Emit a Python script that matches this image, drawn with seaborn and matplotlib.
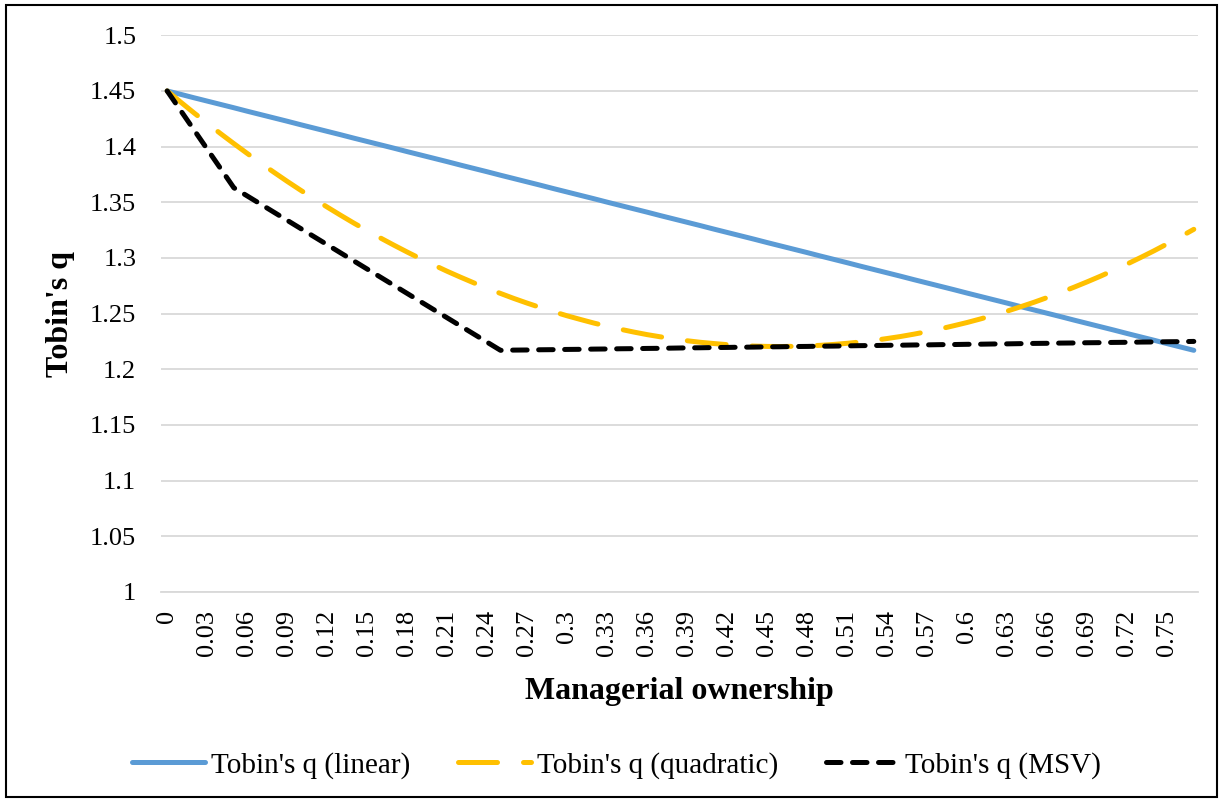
import seaborn as sns
import pandas as pd
import numpy as np
from matplotlib import pyplot as plt
from matplotlib.patches import Rectangle

# managerial ownership (category axis, step 0.01)
ownership = [0.00, 0.01, 0.02, 0.03, 0.04, 0.05, 0.06, 0.07, 0.08, 0.09,
             0.10, 0.11, 0.12, 0.13, 0.14, 0.15, 0.16, 0.17, 0.18, 0.19,
             0.20, 0.21, 0.22, 0.23, 0.24, 0.25, 0.26, 0.27, 0.28, 0.29,
             0.30, 0.31, 0.32, 0.33, 0.34, 0.35, 0.36, 0.37, 0.38, 0.39,
             0.40, 0.41, 0.42, 0.43, 0.44, 0.45, 0.46, 0.47, 0.48, 0.49,
             0.50, 0.51, 0.52, 0.53, 0.54, 0.55, 0.56, 0.57, 0.58, 0.59,
             0.60, 0.61, 0.62, 0.63, 0.64, 0.65, 0.66, 0.67, 0.68, 0.69,
             0.70, 0.71, 0.72, 0.73, 0.74, 0.75, 0.76, 0.77]

q_linear = [1.4500, 1.4470, 1.4439, 1.4409, 1.4379, 1.4349, 1.4318, 1.4288, 1.4258, 1.4228,
            1.4197, 1.4167, 1.4137, 1.4107, 1.4076, 1.4046, 1.4016, 1.3986, 1.3955, 1.3925,
            1.3895, 1.3865, 1.3834, 1.3804, 1.3774, 1.3743, 1.3713, 1.3683, 1.3653, 1.3622,
            1.3592, 1.3562, 1.3532, 1.3501, 1.3471, 1.3441, 1.3411, 1.3380, 1.3350, 1.3320,
            1.3290, 1.3259, 1.3229, 1.3199, 1.3169, 1.3138, 1.3108, 1.3078, 1.3048, 1.3017,
            1.2987, 1.2957, 1.2926, 1.2896, 1.2866, 1.2836, 1.2805, 1.2775, 1.2745, 1.2715,
            1.2684, 1.2654, 1.2624, 1.2594, 1.2563, 1.2533, 1.2503, 1.2473, 1.2442, 1.2412,
            1.2382, 1.2352, 1.2321, 1.2291, 1.2261, 1.2230, 1.2200, 1.2170]

q_quadratic = [1.4500, 1.4401, 1.4304, 1.4210, 1.4117, 1.4027, 1.3939, 1.3853, 1.3770, 1.3688,
               1.3609, 1.3532, 1.3457, 1.3384, 1.3313, 1.3245, 1.3179, 1.3115, 1.3053, 1.2993,
               1.2936, 1.2880, 1.2827, 1.2776, 1.2727, 1.2681, 1.2636, 1.2594, 1.2554, 1.2516,
               1.2480, 1.2447, 1.2415, 1.2386, 1.2359, 1.2334, 1.2311, 1.2291, 1.2273, 1.2256,
               1.2242, 1.2231, 1.2221, 1.2214, 1.2208, 1.2205, 1.2204, 1.2206, 1.2209, 1.2215,
               1.2223, 1.2233, 1.2245, 1.2259, 1.2276, 1.2294, 1.2315, 1.2338, 1.2363, 1.2391,
               1.2420, 1.2452, 1.2486, 1.2522, 1.2561, 1.2601, 1.2644, 1.2689, 1.2736, 1.2785,
               1.2836, 1.2890, 1.2945, 1.3003, 1.3063, 1.3126, 1.3190, 1.3257]

q_msv = [1.4500, 1.4326, 1.4152, 1.3978, 1.3804, 1.3630, 1.3557, 1.3484, 1.3411, 1.3338,
         1.3265, 1.3192, 1.3119, 1.3046, 1.2973, 1.2900, 1.2827, 1.2754, 1.2681, 1.2608,
         1.2535, 1.2462, 1.2389, 1.2316, 1.2243, 1.2170, 1.2172, 1.2173, 1.2175, 1.2176,
         1.2178, 1.2179, 1.2181, 1.2182, 1.2184, 1.2185, 1.2187, 1.2188, 1.2190, 1.2192,
         1.2193, 1.2195, 1.2196, 1.2198, 1.2199, 1.2201, 1.2202, 1.2204, 1.2205, 1.2207,
         1.2208, 1.2210, 1.2212, 1.2213, 1.2215, 1.2216, 1.2218, 1.2219, 1.2221, 1.2222,
         1.2224, 1.2225, 1.2227, 1.2228, 1.2230, 1.2232, 1.2233, 1.2235, 1.2236, 1.2238,
         1.2239, 1.2241, 1.2242, 1.2244, 1.2245, 1.2247, 1.2248, 1.2250]

tick_labels = ["0", "0.03", "0.06", "0.09", "0.12", "0.15", "0.18", "0.21", "0.24",
               "0.27", "0.3", "0.33", "0.36", "0.39", "0.42", "0.45", "0.48", "0.51",
               "0.54", "0.57", "0.6", "0.63", "0.66", "0.69", "0.72", "0.75"]

series_names = ["Tobin's q (linear)", "Tobin's q (quadratic)", "Tobin's q (MSV)"]

"""
数据整理
"""
df = pd.DataFrame({'ownership': ownership,
                   series_names[0]: q_linear,
                   series_names[1]: q_quadratic,
                   series_names[2]: q_msv})
df_long = df.melt(id_vars='ownership', var_name='series', value_name='q')

sns.set_theme(style="white")
plt.rcParams['font.family'] = ['Liberation Serif', 'DejaVu Serif']
plt.rcParams['text.color'] = 'black'
plt.rcParams['axes.labelcolor'] = 'black'
plt.rcParams['xtick.color'] = 'black'
plt.rcParams['ytick.color'] = 'black'

fig, ax = plt.subplots(figsize=(12.21, 8.02), dpi=100)
fig.subplots_adjust(left=0.132, right=0.981, top=0.956, bottom=0.262)

colors = {series_names[0]: '#5B9BD5', series_names[1]: '#FFC000', series_names[2]: '#000000'}
styles = {series_names[0]: None, series_names[1]: (7.8, 5.2), series_names[2]: (2.9, 2.3)}

for name in series_names:
    sub = df_long[df_long['series'] == name]
    sns.lineplot(data=sub, x='ownership', y='q', ax=ax, color=colors[name],
                 linewidth=3.6, label=name, solid_capstyle='round', dash_capstyle='round')
    line = ax.lines[-1]
    if styles[name] is not None:
        line.set_dashes(styles[name])

# 坐标轴
ax.set_xlim(-0.0045, 0.773)
ax.set_ylim(1.0, 1.5)
ax.set_yticks([1.0, 1.05, 1.1, 1.15, 1.2, 1.25, 1.3, 1.35, 1.4, 1.45, 1.5])
ax.set_yticklabels(["1", "1.05", "1.1", "1.15", "1.2", "1.25", "1.3", "1.35", "1.4", "1.45", "1.5"])
ax.set_xticks([ownership[i] for i in range(0, 76, 3)])
ax.set_xticklabels(tick_labels, rotation=90, va='top', ha='center')
ax.tick_params(axis='y', length=0, pad=18, labelsize=19, labelcolor='black')
ax.tick_params(axis='x', length=0, pad=13, labelsize=19, labelcolor='black')
ax.yaxis.grid(True, color='#D9D9D9', linewidth=1.3)
ax.xaxis.grid(False)
for s in ['top', 'right', 'left']:
    ax.spines[s].set_visible(False)
ax.spines['bottom'].set_color('#D9D9D9')
ax.spines['bottom'].set_linewidth(1.3)
ax.set_axisbelow(True)

ax.set_xlabel("Managerial ownership", fontsize=23, fontweight='bold', labelpad=15, color='black')
ax.set_ylabel("Tobin's q", fontsize=23, fontweight='bold', color='black')
ax.yaxis.set_label_coords(-0.083, 0.5)

leg = ax.legend(loc='center', bbox_to_anchor=(0.505, 0.046), bbox_transform=fig.transFigure,
                ncol=3, frameon=False, fontsize=21, handlelength=2.5, handletextpad=0.2,
                columnspacing=1.65)
for t in leg.get_texts():
    t.set_color('black')

fig.patches.append(Rectangle((0.005, 0.006), 0.992, 0.988, transform=fig.transFigure,
                             fill=False, edgecolor='black', linewidth=1.5))

plt.savefig('out.png', dpi=100)
